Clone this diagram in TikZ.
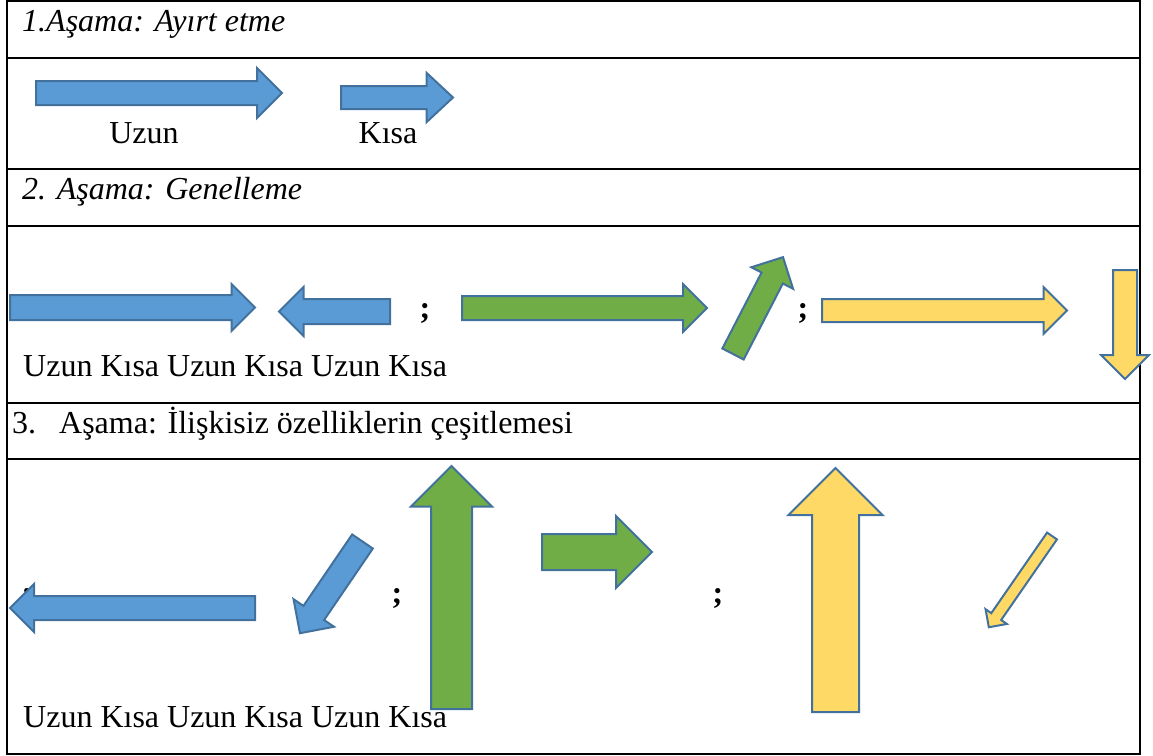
\documentclass[tikz,border=0pt]{standalone}
\usepackage{fontspec}
\setmainfont{Liberation Serif}
\usetikzlibrary{shapes.arrows}
\definecolor{okmavi}{HTML}{5B9BD5}
\definecolor{okyesil}{HTML}{70AD47}
\definecolor{oksari}{HTML}{FFD966}
\definecolor{okkenar}{HTML}{41719C}

\begin{document}
\begin{tikzpicture}[x=1pt,y=-1pt,
		blok/.style={single arrow, draw=okkenar, line width=2pt, inner sep=0pt,
			outer sep=0pt, anchor=tail, single arrow tip angle=90},
		yazi/.style={inner sep=0pt, font=\fontsize{32}{38}\selectfont},
		cizgi/.style={line width=2pt}]
		\useasboundingbox (0,0) rectangle (1153,755);
		% tablo
		\draw[cizgi] (7,1) rectangle (1140,754);
		\foreach \y in {58,169,226,403,459}
			\draw[cizgi] (7,\y) -- (1140,\y);
		% 1. asama
		\node[yazi, anchor=base west] (baslik1) at (22,31) {\itshape 1.Aşama: Ayırt etme};
		\node[blok, fill=okmavi, minimum height=246, inner ysep=11, single arrow head extend=13] (uzun1) at (36,93) {};
		\node[blok, fill=okmavi, minimum height=112, inner ysep=10.5, single arrow head extend=13, single arrow tip angle=86] (kisa1) at (341,97.5) {};
		\node[yazi, anchor=base] (uzunyazi) at (144,143) {Uzun};
		\node[yazi, anchor=base] (kisayazi) at (388,143) {Kısa};
		% 2. asama
		\node[yazi, anchor=base west] (baslik2) at (22,199) {\itshape 2. Aşama: Genelleme};
		\node[blok, fill=okmavi, minimum height=245, inner ysep=11.5, single arrow head extend=11] (uzun2a) at (10,307.5) {};
		\node[blok, fill=okmavi, minimum height=111, inner ysep=11.5, single arrow head extend=12, rotate=180] (kisa2a) at (390,311.5) {};
		\node[yazi, anchor=base] (nokta2a) at (425,318) {\bfseries ;};
		\node[blok, fill=okyesil, minimum height=245, inner ysep=11, single arrow head extend=12] (uzun2b) at (462,308) {};
		\node[blok, fill=okyesil, minimum height=109, inner ysep=11, single arrow head extend=11.5, rotate=62.7] (kisa2b) at (733,354) {};
		\node[yazi, anchor=base] (nokta2b) at (803,318) {\bfseries ;};
		\node[blok, fill=oksari, minimum height=245, inner ysep=10.5, single arrow head extend=12] (uzun2c) at (822,310.5) {};
		\node[blok, fill=oksari, minimum height=109, inner ysep=11, single arrow head extend=12, rotate=-90] (kisa2c) at (1125,270) {};
		\node[yazi, anchor=base west] (etiket2) at (23,376) {Uzun Kısa Uzun Kısa Uzun Kısa};
		% 3. asama
		\node[yazi, anchor=base west] (baslik3) at (12,433) {\makebox[47pt][l]{3.}Aşama: İlişkisiz özelliklerin çeşitlemesi};
		\node[yazi, anchor=base] (nokta3o) at (27,603) {\bfseries ;};
		\node[blok, fill=okmavi, minimum height=245, inner ysep=11, single arrow head extend=12, rotate=180] (uzun3a) at (255,608) {};
		\node[blok, fill=okmavi, minimum height=111, inner ysep=11.5, single arrow head extend=12, rotate=235.7] (kisa3a) at (362.5,541.5) {};
		\node[yazi, anchor=base] (nokta3a) at (397,603) {\bfseries ;};
		\node[blok, fill=okyesil, minimum height=243, inner ysep=19.5, single arrow head extend=20, rotate=90] (uzun3b) at (451.5,709) {};
		\node[blok, fill=okyesil, minimum height=110, inner ysep=17, single arrow head extend=18] (kisa3b) at (542,552) {};
		\node[yazi, anchor=base] (nokta3b) at (718,603) {\bfseries ;};
		\node[blok, fill=oksari, minimum height=244, inner ysep=22.5, single arrow head extend=23.5, rotate=90] (uzun3c) at (835.5,712) {};
		\node[blok, fill=oksari, minimum height=111, inner ysep=5, single arrow head extend=7, rotate=-124.7] (kisa3c) at (1052,536) {};
		\node[yazi, anchor=base west] (etiket3) at (23,727) {Uzun Kısa Uzun Kısa Uzun Kısa};
	\end{tikzpicture}
\end{document}
